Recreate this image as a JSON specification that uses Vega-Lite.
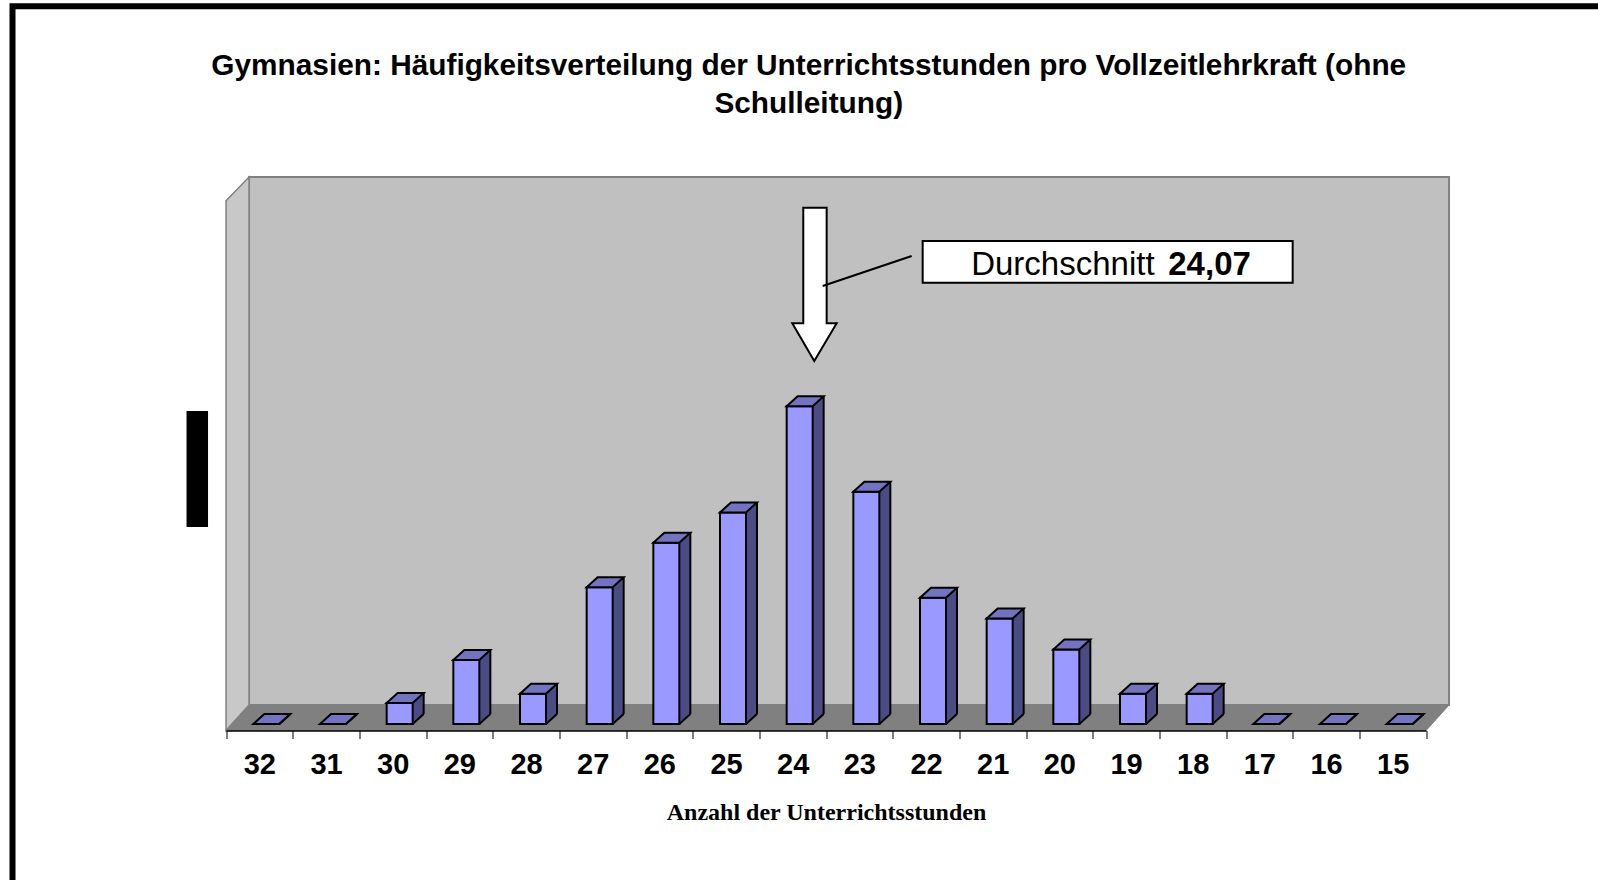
{
  "$schema": "https://vega.github.io/schema/vega-lite/v6.json",
  "width": 1588.5,
  "height": 876.7,
  "autosize": {"type": "none"},
  "padding": {"left": 12.5, "top": 6.3, "right": -3, "bottom": -3},
  "background": "white",
  "config": {
    "view": {"stroke": "black", "strokeWidth": 6, "fill": "white"},
    "font": "Liberation Sans"
  },
  "title": {
    "text": ["Gymnasien: Häufigkeitsverteilung der Unterrichtsstunden pro Vollzeitlehrkraft (ohne", "Schulleitung)"],
    "font": "Liberation Sans",
    "fontSize": 29.8,
    "fontWeight": "bold",
    "color": "black",
    "anchor": "middle",
    "frame": "group",
    "offset": -113,
    "dx": 2,
    "lineHeight": 38.6
  },
  "data": {
    "values": [
      {"h": 32, "pct": 0},
      {"h": 31, "pct": 0},
      {"h": 30, "pct": 1.34},
      {"h": 29, "pct": 4.10},
      {"h": 28, "pct": 1.94},
      {"h": 27, "pct": 8.75},
      {"h": 26, "pct": 11.60},
      {"h": 25, "pct": 13.55},
      {"h": 24, "pct": 20.35},
      {"h": 23, "pct": 14.88},
      {"h": 22, "pct": 8.08},
      {"h": 21, "pct": 6.76},
      {"h": 20, "pct": 4.77},
      {"h": 19, "pct": 1.94},
      {"h": 18, "pct": 1.94},
      {"h": 17, "pct": 0},
      {"h": 16, "pct": 0},
      {"h": 15, "pct": 0}
    ]
  },
  "encoding": {
    "x": {
      "field": "h",
      "type": "ordinal",
      "scale": {
        "domain": [32, 31, 30, 29, 28, 27, 26, 25, 24, 23, 22, 21, 20, 19, 18, 17, 16, 15],
        "range": [213.5, 1413.5],
        "paddingInner": 0,
        "paddingOuter": 0
      },
      "axis": {
        "title": "Anzahl der Unterrichtsstunden",
        "titleFont": "Liberation Serif",
        "titleFontSize": 24,
        "titleFontWeight": "bold",
        "titleColor": "black",
        "titlePadding": 21,
        "offset": -152.5,
        "zindex": 1,
        "domainColor": "black",
        "domainWidth": 1.5,
        "tickColor": "black",
        "tickWidth": 1,
        "tickSize": 8,
        "tickBand": "extent",
        "labelFont": "Liberation Sans",
        "labelFontSize": 29,
        "labelFontWeight": "bold",
        "labelColor": "black",
        "labelPadding": 12,
        "labelAngle": 0,
        "grid": false
      }
    },
    "y": {
      "field": "pct",
      "type": "quantitative",
      "scale": {"domain": [0, 34.28], "range": [717.7, 182.4], "nice": false, "zero": true},
      "axis": null
    }
  },
  "layer": [
    {
      "transform": [{"filter": "datum.h == 32"}],
      "mark": {"type": "point", "shape": "M -10.3 -547 L 1189.7 -547 L 1189.7 -19 L -10.3 -19 Z", "size": 4, "filled": true, "fill": "#C0C0C0", "stroke": "#808080", "strokeWidth": 2, "opacity": 1},
      "encoding": {"y": {"datum": 0, "type": "quantitative", "axis": null}}
    },
    {
      "transform": [{"filter": "datum.h == 32"}],
      "mark": {"type": "point", "shape": "M -33.3 6.5 L -33.3 -523.2 L -10.3 -547 L -10.3 -19 Z", "size": 4, "filled": true, "fill": "#C8C8C8", "stroke": "#808080", "strokeWidth": 1.5, "opacity": 1},
      "encoding": {"y": {"datum": 0, "type": "quantitative", "axis": null}}
    },
    {
      "transform": [{"filter": "datum.h == 32"}],
      "mark": {"type": "point", "shape": "M -33.3 6.5 L -10.3 -19 L 1189.7 -19 L 1166.7 6.5 Z", "size": 4, "filled": true, "fill": "#808080", "stroke": "#808080", "strokeWidth": 1, "opacity": 1},
      "encoding": {"y": {"datum": 0, "type": "quantitative", "axis": null}}
    },
    {
      "transform": [{"filter": "datum.h == 32"}],
      "mark": {"type": "point", "shape": "M -72.8 -313 L -51.3 -313 L -51.3 -197 L -72.8 -197 Z", "size": 4, "filled": true, "fill": "black", "strokeWidth": 0, "opacity": 1},
      "encoding": {"y": {"datum": 0, "type": "quantitative", "axis": null}}
    },
    {
      "mark": {"type": "bar", "width": 11, "xOffset": 25.5, "yOffset": -10, "y2Offset": -10, "fill": "#4C4C85", "strokeWidth": 0},
      "encoding": {"y2": {"datum": 0}}
    },
    {
      "mark": {"type": "point", "shape": "M 20 0 L 20 -10 L 31 -10 Z", "size": 4, "filled": true, "fill": "#4C4C85", "strokeWidth": 0, "opacity": 1},
      "encoding": {"y": {"datum": 0, "type": "quantitative", "axis": null}}
    },
    {
      "mark": {"type": "bar", "width": 26, "xOffset": 7, "fill": "#9999FF", "stroke": "black", "strokeWidth": 2}
    },
    {
      "mark": {"type": "point", "shape": "M -6 0 L 20 0 L 31 -10 L 5 -10 Z", "size": 4, "filled": true, "fill": "#7373C0", "stroke": "black", "strokeWidth": 2, "strokeJoin": "miter", "opacity": 1}
    },
    {
      "mark": {"type": "rule", "xOffset": 31, "yOffset": -10, "y2Offset": -10, "stroke": "black", "strokeWidth": 2},
      "encoding": {"y2": {"datum": 0}}
    },
    {
      "mark": {"type": "point", "shape": "M 20 0 L 31 -10", "size": 4, "filled": false, "fillOpacity": 0, "stroke": "black", "strokeWidth": 2, "opacity": 1},
      "encoding": {"y": {"datum": 0, "type": "quantitative", "axis": null}}
    },
    {
      "transform": [{"filter": "datum.h == 24"}],
      "mark": {"type": "point", "shape": "M 10.6 -516.3 L 34 -516.3 L 34 -400.7 L 44 -400.7 L 21.6 -363 L -0.4 -400.7 L 10.6 -400.7 Z", "size": 4, "filled": true, "fill": "white", "stroke": "black", "strokeWidth": 2, "strokeJoin": "miter", "opacity": 1},
      "encoding": {"y": {"datum": 0, "type": "quantitative", "axis": null}}
    },
    {
      "transform": [{"filter": "datum.h == 24"}],
      "mark": {"type": "point", "shape": "M 119 -468 L 30 -438", "size": 4, "filled": false, "fillOpacity": 0, "stroke": "black", "strokeWidth": 2, "opacity": 1},
      "encoding": {"y": {"datum": 0, "type": "quantitative", "axis": null}}
    },
    {
      "transform": [{"filter": "datum.h == 24"}],
      "mark": {"type": "point", "shape": "M 130 -483 L 500 -483 L 500 -441.3 L 130 -441.3 Z", "size": 4, "filled": true, "fill": "white", "stroke": "black", "strokeWidth": 2, "opacity": 1},
      "encoding": {"y": {"datum": 0, "type": "quantitative", "axis": null}}
    },
    {
      "transform": [{"filter": "datum.h == 24"}],
      "mark": {"type": "text", "text": "Durchschnitt", "dx": 178.5, "dy": -449, "align": "left", "baseline": "alphabetic", "font": "Liberation Sans", "fontSize": 33, "color": "black"},
      "encoding": {"y": {"datum": 0, "type": "quantitative", "axis": null}}
    },
    {
      "transform": [{"filter": "datum.h == 24"}],
      "mark": {"type": "text", "text": "24,07", "dx": 375.6, "dy": -449, "align": "left", "baseline": "alphabetic", "font": "Liberation Sans", "fontSize": 33, "fontWeight": "bold", "color": "black"},
      "encoding": {"y": {"datum": 0, "type": "quantitative", "axis": null}}
    }
  ]
}
